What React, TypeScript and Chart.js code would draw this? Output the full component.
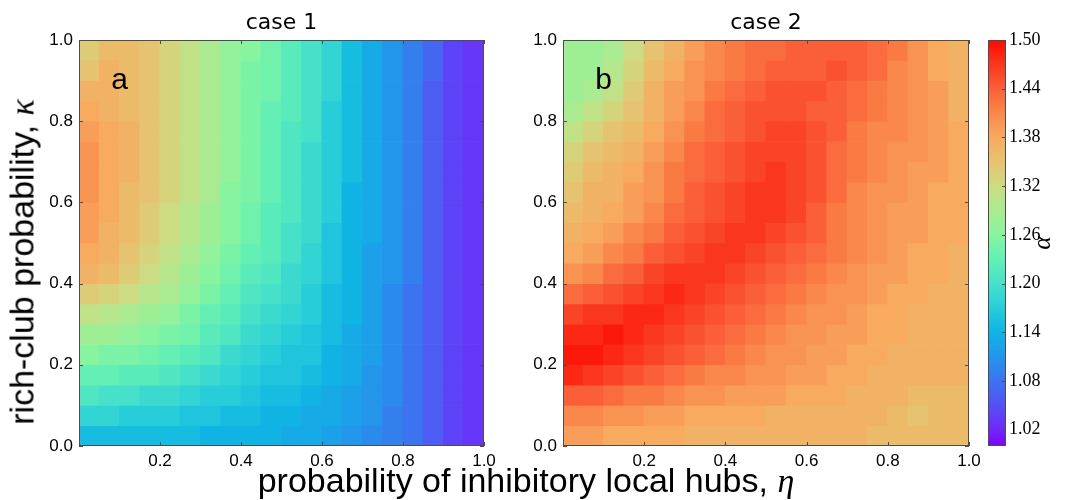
import React, { useEffect, useRef } from "react";
import { Chart, registerables } from "chart.js";

Chart.register(...registerables);

// ---------- data ----------
// column centres (eta) and row centres (kappa, top row first)
const ETA = [0.025, 0.075, 0.125, 0.175, 0.225, 0.275, 0.325, 0.375, 0.425, 0.475,
  0.525, 0.575, 0.625, 0.675, 0.725, 0.775, 0.825, 0.875, 0.925, 0.975];
const KAPPA = [0.975, 0.925, 0.875, 0.825, 0.775, 0.725, 0.675, 0.625, 0.575, 0.525,
  0.475, 0.425, 0.375, 0.325, 0.275, 0.225, 0.175, 0.125, 0.075, 0.025];

// alpha values, case 1 (rows follow KAPPA, columns follow ETA)
const CASE1 = [
  [1.34, 1.36, 1.36, 1.35, 1.33, 1.31, 1.29, 1.27, 1.26, 1.24, 1.22, 1.20, 1.18, 1.15, 1.13, 1.11, 1.09, 1.07, 1.04, 1.03],
  [1.35, 1.37, 1.36, 1.35, 1.33, 1.31, 1.29, 1.27, 1.25, 1.24, 1.22, 1.20, 1.18, 1.15, 1.13, 1.11, 1.09, 1.07, 1.04, 1.03],
  [1.37, 1.37, 1.36, 1.35, 1.33, 1.31, 1.29, 1.27, 1.25, 1.24, 1.22, 1.20, 1.18, 1.15, 1.13, 1.11, 1.09, 1.06, 1.04, 1.03],
  [1.38, 1.37, 1.36, 1.35, 1.33, 1.31, 1.29, 1.27, 1.25, 1.23, 1.22, 1.20, 1.17, 1.15, 1.13, 1.11, 1.09, 1.06, 1.04, 1.03],
  [1.39, 1.38, 1.37, 1.35, 1.33, 1.31, 1.29, 1.27, 1.25, 1.23, 1.21, 1.20, 1.17, 1.15, 1.13, 1.11, 1.09, 1.06, 1.04, 1.03],
  [1.40, 1.38, 1.37, 1.35, 1.33, 1.31, 1.29, 1.27, 1.25, 1.23, 1.21, 1.19, 1.17, 1.15, 1.13, 1.11, 1.09, 1.06, 1.04, 1.03],
  [1.40, 1.38, 1.37, 1.35, 1.33, 1.31, 1.29, 1.27, 1.25, 1.23, 1.21, 1.19, 1.17, 1.15, 1.13, 1.11, 1.09, 1.06, 1.04, 1.03],
  [1.40, 1.38, 1.36, 1.35, 1.33, 1.31, 1.29, 1.26, 1.25, 1.23, 1.21, 1.19, 1.17, 1.14, 1.13, 1.11, 1.09, 1.06, 1.04, 1.03],
  [1.39, 1.38, 1.36, 1.34, 1.32, 1.30, 1.28, 1.26, 1.24, 1.22, 1.21, 1.19, 1.17, 1.14, 1.13, 1.11, 1.09, 1.06, 1.04, 1.03],
  [1.39, 1.37, 1.36, 1.34, 1.32, 1.30, 1.28, 1.26, 1.24, 1.22, 1.20, 1.19, 1.16, 1.14, 1.13, 1.11, 1.09, 1.06, 1.04, 1.03],
  [1.38, 1.37, 1.35, 1.33, 1.31, 1.29, 1.27, 1.25, 1.23, 1.22, 1.20, 1.18, 1.16, 1.14, 1.12, 1.11, 1.09, 1.06, 1.04, 1.03],
  [1.37, 1.36, 1.34, 1.32, 1.30, 1.28, 1.26, 1.24, 1.22, 1.21, 1.19, 1.18, 1.16, 1.14, 1.12, 1.11, 1.09, 1.06, 1.04, 1.03],
  [1.34, 1.33, 1.32, 1.30, 1.29, 1.27, 1.25, 1.23, 1.21, 1.20, 1.19, 1.17, 1.15, 1.14, 1.12, 1.10, 1.08, 1.06, 1.04, 1.03],
  [1.31, 1.30, 1.29, 1.28, 1.27, 1.25, 1.23, 1.22, 1.20, 1.19, 1.18, 1.17, 1.15, 1.14, 1.12, 1.10, 1.08, 1.06, 1.04, 1.03],
  [1.28, 1.28, 1.27, 1.26, 1.25, 1.24, 1.22, 1.21, 1.19, 1.18, 1.17, 1.16, 1.15, 1.13, 1.12, 1.10, 1.08, 1.06, 1.04, 1.03],
  [1.26, 1.25, 1.25, 1.24, 1.23, 1.22, 1.21, 1.19, 1.18, 1.17, 1.16, 1.16, 1.14, 1.13, 1.12, 1.10, 1.08, 1.06, 1.04, 1.03],
  [1.23, 1.23, 1.22, 1.22, 1.21, 1.20, 1.19, 1.18, 1.17, 1.16, 1.16, 1.15, 1.14, 1.13, 1.11, 1.10, 1.08, 1.06, 1.04, 1.03],
  [1.21, 1.20, 1.20, 1.19, 1.19, 1.18, 1.17, 1.17, 1.16, 1.15, 1.15, 1.14, 1.13, 1.12, 1.11, 1.10, 1.08, 1.06, 1.04, 1.03],
  [1.18, 1.18, 1.17, 1.17, 1.17, 1.16, 1.16, 1.15, 1.15, 1.14, 1.14, 1.13, 1.13, 1.12, 1.11, 1.09, 1.08, 1.06, 1.04, 1.03],
  [1.15, 1.15, 1.15, 1.15, 1.15, 1.15, 1.14, 1.14, 1.14, 1.14, 1.13, 1.13, 1.12, 1.11, 1.10, 1.09, 1.08, 1.06, 1.04, 1.03],
];

// alpha values, case 2
const CASE2 = [
  [1.28, 1.28, 1.29, 1.32, 1.35, 1.37, 1.39, 1.41, 1.42, 1.43, 1.43, 1.44, 1.44, 1.44, 1.44, 1.43, 1.42, 1.40, 1.38, 1.37],
  [1.28, 1.28, 1.30, 1.33, 1.36, 1.38, 1.40, 1.41, 1.42, 1.43, 1.44, 1.44, 1.44, 1.45, 1.44, 1.43, 1.41, 1.40, 1.38, 1.37],
  [1.28, 1.29, 1.31, 1.34, 1.37, 1.39, 1.40, 1.42, 1.43, 1.44, 1.45, 1.45, 1.45, 1.44, 1.43, 1.42, 1.41, 1.40, 1.39, 1.37],
  [1.29, 1.31, 1.33, 1.35, 1.37, 1.39, 1.41, 1.43, 1.44, 1.45, 1.45, 1.45, 1.44, 1.44, 1.43, 1.42, 1.41, 1.40, 1.39, 1.37],
  [1.31, 1.33, 1.35, 1.36, 1.38, 1.40, 1.42, 1.43, 1.44, 1.45, 1.46, 1.46, 1.45, 1.44, 1.42, 1.41, 1.41, 1.40, 1.39, 1.38],
  [1.33, 1.35, 1.36, 1.37, 1.39, 1.41, 1.43, 1.44, 1.45, 1.46, 1.46, 1.46, 1.45, 1.43, 1.42, 1.41, 1.40, 1.40, 1.39, 1.38],
  [1.34, 1.36, 1.37, 1.38, 1.40, 1.42, 1.43, 1.44, 1.45, 1.46, 1.47, 1.46, 1.45, 1.43, 1.42, 1.41, 1.40, 1.39, 1.39, 1.38],
  [1.35, 1.37, 1.37, 1.39, 1.40, 1.42, 1.44, 1.45, 1.46, 1.47, 1.47, 1.46, 1.45, 1.43, 1.41, 1.40, 1.40, 1.39, 1.38, 1.38],
  [1.36, 1.37, 1.38, 1.39, 1.41, 1.43, 1.44, 1.45, 1.46, 1.47, 1.47, 1.46, 1.44, 1.42, 1.41, 1.40, 1.39, 1.39, 1.38, 1.38],
  [1.37, 1.38, 1.39, 1.41, 1.42, 1.44, 1.45, 1.46, 1.47, 1.47, 1.46, 1.45, 1.44, 1.42, 1.41, 1.40, 1.39, 1.39, 1.38, 1.38],
  [1.38, 1.39, 1.41, 1.42, 1.44, 1.45, 1.46, 1.47, 1.47, 1.46, 1.45, 1.44, 1.43, 1.42, 1.41, 1.40, 1.39, 1.38, 1.38, 1.37],
  [1.40, 1.41, 1.43, 1.44, 1.46, 1.47, 1.47, 1.47, 1.46, 1.45, 1.44, 1.43, 1.42, 1.41, 1.40, 1.39, 1.39, 1.38, 1.38, 1.37],
  [1.43, 1.44, 1.45, 1.46, 1.47, 1.48, 1.47, 1.46, 1.45, 1.44, 1.43, 1.42, 1.41, 1.40, 1.40, 1.39, 1.38, 1.38, 1.37, 1.37],
  [1.46, 1.47, 1.47, 1.48, 1.48, 1.47, 1.46, 1.45, 1.44, 1.43, 1.42, 1.41, 1.40, 1.40, 1.39, 1.38, 1.38, 1.37, 1.37, 1.37],
  [1.48, 1.48, 1.49, 1.48, 1.47, 1.46, 1.45, 1.44, 1.43, 1.42, 1.41, 1.40, 1.40, 1.39, 1.39, 1.38, 1.38, 1.37, 1.37, 1.37],
  [1.49, 1.49, 1.48, 1.47, 1.46, 1.45, 1.44, 1.43, 1.42, 1.41, 1.40, 1.40, 1.39, 1.39, 1.38, 1.38, 1.37, 1.37, 1.37, 1.37],
  [1.48, 1.47, 1.46, 1.45, 1.44, 1.43, 1.42, 1.41, 1.41, 1.40, 1.40, 1.39, 1.39, 1.38, 1.38, 1.37, 1.37, 1.37, 1.37, 1.37],
  [1.44, 1.44, 1.43, 1.42, 1.42, 1.41, 1.40, 1.40, 1.39, 1.39, 1.39, 1.38, 1.38, 1.38, 1.37, 1.37, 1.37, 1.36, 1.36, 1.36],
  [1.41, 1.41, 1.40, 1.40, 1.39, 1.39, 1.38, 1.38, 1.38, 1.38, 1.37, 1.37, 1.37, 1.37, 1.37, 1.37, 1.36, 1.35, 1.36, 1.36],
  [1.39, 1.39, 1.38, 1.38, 1.38, 1.38, 1.37, 1.37, 1.37, 1.37, 1.37, 1.37, 1.37, 1.37, 1.37, 1.36, 1.36, 1.36, 1.36, 1.36],
];

const X_TICKS = [0.2, 0.4, 0.6, 0.8, 1.0];
const Y_TICKS = [0.0, 0.2, 0.4, 0.6, 0.8, 1.0];
const CBAR_TICKS = [1.02, 1.08, 1.14, 1.20, 1.26, 1.32, 1.38, 1.44, 1.50];
const ALPHA_MIN = 1.0;
const ALPHA_MAX = 1.5;
const TITLES = ["case 1", "case 2"];
const LETTERS = ["a", "b"];
const LETTER_POS = [0.1, 0.9];
const X_LABEL = "probability of inhibitory local hubs, ";
const Y_LABEL = "rich-club probability, ";

// ---------- styles ----------
const CMAP: number[][] = [
  [0.00, 128, 0, 255],
  [0.04, 110, 40, 250],
  [0.10, 85, 80, 245],
  [0.16, 60, 115, 240],
  [0.22, 35, 150, 235],
  [0.28, 15, 180, 228],
  [0.34, 40, 205, 218],
  [0.40, 70, 225, 200],
  [0.46, 100, 240, 180],
  [0.52, 135, 245, 160],
  [0.58, 170, 235, 145],
  [0.64, 205, 220, 130],
  [0.70, 230, 195, 112],
  [0.76, 248, 170, 95],
  [0.82, 250, 135, 75],
  [0.88, 250, 95, 55],
  [0.94, 250, 55, 30],
  [1.00, 255, 10, 0],
];
const FRAME = "#4d4d4d";
const TICK_LEN = 4;
const SANS = '"Liberation Sans", Arial, sans-serif';
const SERIF = '"Liberation Serif", "DejaVu Serif", serif';
const CELL_HALF = 0.0258;

function colorFor(v: number): string {
  const t = Math.min(1, Math.max(0, (v - ALPHA_MIN) / (ALPHA_MAX - ALPHA_MIN)));
  for (let i = 1; i < CMAP.length; i++) {
    const a = CMAP[i - 1];
    const b = CMAP[i];
    if (t <= b[0]) {
      const f = (t - a[0]) / (b[0] - a[0]);
      const r = Math.round(a[1] + (b[1] - a[1]) * f);
      const g = Math.round(a[2] + (b[2] - a[2]) * f);
      const bl = Math.round(a[3] + (b[3] - a[3]) * f);
      return `rgb(${r},${g},${bl})`;
    }
  }
  const l = CMAP[CMAP.length - 1];
  return `rgb(${l[1]},${l[2]},${l[3]})`;
}

const heatDecor = {
  id: "heatDecor",
  afterDatasetsDraw(chart: any, _args: any, opts: any) {
    const { ctx, chartArea: a, scales } = chart;
    const x = scales.x;
    const y = scales.y;
    ctx.save();
    ctx.strokeStyle = FRAME;
    ctx.lineWidth = 1;
    ctx.beginPath();
    X_TICKS.forEach((v) => {
      const px = Math.round(x.getPixelForValue(v)) + 0.5;
      ctx.moveTo(px, a.bottom);
      ctx.lineTo(px, a.bottom - TICK_LEN);
      ctx.moveTo(px, a.top);
      ctx.lineTo(px, a.top + TICK_LEN);
    });
    Y_TICKS.forEach((v) => {
      const py = Math.round(y.getPixelForValue(v)) + 0.5;
      ctx.moveTo(a.left, py);
      ctx.lineTo(a.left + TICK_LEN, py);
      ctx.moveTo(a.right, py);
      ctx.lineTo(a.right - TICK_LEN, py);
    });
    ctx.stroke();
    ctx.strokeRect(Math.round(a.left) + 0.5, Math.round(a.top) + 0.5,
      Math.round(a.width) - 1, Math.round(a.height) - 1);
    ctx.fillStyle = "#000";
    ctx.font = `30px ${SANS}`;
    ctx.textAlign = "center";
    ctx.textBaseline = "middle";
    ctx.fillText(opts.letter, x.getPixelForValue(LETTER_POS[0]), y.getPixelForValue(LETTER_POS[1]));
    ctx.restore();
  },
};

const cbarDecor = {
  id: "cbarDecor",
  afterDatasetsDraw(chart: any) {
    const { ctx, chartArea: a, scales } = chart;
    const y = scales.y;
    ctx.save();
    ctx.strokeStyle = FRAME;
    ctx.lineWidth = 1;
    ctx.beginPath();
    CBAR_TICKS.forEach((v) => {
      const py = Math.round(y.getPixelForValue(v)) + 0.5;
      ctx.moveTo(a.right, py);
      ctx.lineTo(a.right - TICK_LEN, py);
    });
    ctx.stroke();
    ctx.strokeRect(Math.round(a.left) + 0.5, Math.round(a.top) + 0.5,
      Math.round(a.width) - 1, Math.round(a.height) - 1);
    ctx.fillStyle = "#000";
    ctx.font = `italic 26px ${SERIF}`;
    ctx.textAlign = "center";
    ctx.textBaseline = "middle";
    ctx.translate(a.right + 37, (a.top + a.bottom) / 2);
    ctx.rotate(-Math.PI / 2);
    ctx.fillText("α", 0, 0);
    ctx.restore();
  },
};

function heatConfig(panel: number, yAxisWidth: number, padRight: number): any {
  const grid = panel === 0 ? CASE1 : CASE2;
  const datasets = KAPPA.map((k, ri) => ({
    data: ETA.map((e) => ({ x: e, y: [k - CELL_HALF, k + CELL_HALF] })),
    backgroundColor: grid[ri].map((v) => colorFor(v)),
    borderWidth: 0,
    barPercentage: 1.05,
    categoryPercentage: 1,
    grouped: false,
    clip: 0,
  }));
  return {
    type: "bar",
    data: { datasets },
    plugins: [heatDecor],
    options: {
      responsive: false,
      animation: false,
      events: [],
      layout: { padding: { left: 0, right: padRight, top: 0, bottom: 0 } },
      plugins: {
        legend: { display: false },
        tooltip: { enabled: false },
        title: {
          display: true,
          text: TITLES[panel],
          fullSize: false,
          color: "#000",
          font: { family: '"DejaVu Sans", sans-serif', size: 22, weight: "normal" },
          padding: { top: 10, bottom: 3.6 },
        },
        heatDecor: { letter: LETTERS[panel] },
      },
      scales: {
        x: {
          type: "linear",
          min: 0,
          max: 1,
          offset: false,
          grid: { display: false, drawTicks: false, offset: false },
          border: { display: false },
          afterBuildTicks: (s: any) => {
            s.ticks = X_TICKS.map((v) => ({ value: v }));
          },
          afterFit: (s: any) => {
            s.height = 54;
          },
          ticks: {
            color: "#000",
            font: { family: SANS, size: 17 },
            padding: 5,
            maxRotation: 0,
            autoSkip: false,
            callback: (v: any) => Number(v).toFixed(1),
          },
        },
        y: {
          type: "linear",
          min: 0,
          max: 1,
          grid: { display: false, drawTicks: false },
          border: { display: false },
          afterBuildTicks: (s: any) => {
            s.ticks = Y_TICKS.map((v) => ({ value: v }));
          },
          afterFit: (s: any) => {
            s.width = yAxisWidth;
          },
          ticks: {
            color: "#000",
            font: { family: SANS, size: 17 },
            padding: 6,
            autoSkip: false,
            callback: (v: any) => Number(v).toFixed(1),
          },
        },
      },
    },
  };
}

function cbarConfig(): any {
  return {
    type: "bar",
    data: {
      labels: [""],
      datasets: [
        {
          data: [[ALPHA_MIN, ALPHA_MAX]],
          backgroundColor: (c: any) => {
            const chart = c.chart;
            const area = chart.chartArea;
            if (!area) return colorFor((ALPHA_MIN + ALPHA_MAX) / 2);
            const g = chart.ctx.createLinearGradient(0, area.bottom, 0, area.top);
            CMAP.forEach((s) => g.addColorStop(s[0], `rgb(${s[1]},${s[2]},${s[3]})`));
            return g;
          },
          borderWidth: 0,
          barPercentage: 1,
          categoryPercentage: 1,
          clip: 0,
        },
      ],
    },
    plugins: [cbarDecor],
    options: {
      responsive: false,
      animation: false,
      events: [],
      layout: { padding: { left: 8, right: 0, top: 40, bottom: 54 } },
      plugins: { legend: { display: false }, tooltip: { enabled: false } },
      scales: {
        x: { display: false },
        y: {
          position: "right",
          min: ALPHA_MIN,
          max: ALPHA_MAX,
          grid: { display: false, drawTicks: false },
          border: { display: false },
          afterBuildTicks: (s: any) => {
            s.ticks = CBAR_TICKS.map((v) => ({ value: v }));
          },
          afterFit: (s: any) => {
            s.width = 71;
          },
          ticks: {
            color: "#000",
            font: { family: SERIF, size: 18 },
            padding: 3,
            autoSkip: false,
            callback: (v: any) => Number(v).toFixed(2),
          },
        },
      },
    },
  };
}

function ChartBox(props: { left: number; width: number; make: () => any }) {
  const ref = useRef<HTMLCanvasElement | null>(null);
  useEffect(() => {
    const chart = new Chart(ref.current as HTMLCanvasElement, props.make());
    return () => chart.destroy();
  }, []);
  return (
    <div style={{ position: "absolute", left: props.left, top: 0, width: props.width, height: 500 }}>
      <canvas ref={ref} width={props.width} height={500} style={{ width: props.width, height: 500, display: "block" }} />
    </div>
  );
}

export default function App() {
  return (
    <div style={{ position: "absolute", left: 0, top: 0, width: 1077, height: 500, background: "#fff", overflow: "hidden" }}>
      <ChartBox left={0} width={520} make={() => heatConfig(0, 79, 36)} />
      <ChartBox left={500} width={500} make={() => heatConfig(1, 63, 31)} />
      <ChartBox left={980} width={97} make={cbarConfig} />
      <div
        style={{
          position: "absolute",
          left: 22,
          top: 262,
          transform: "translate(-50%, -50%) rotate(-90deg)",
          fontFamily: SANS,
          fontSize: 34,
          lineHeight: "38px",
          color: "#000",
          whiteSpace: "nowrap",
        }}
      >
        {Y_LABEL}
        <span style={{ fontFamily: SERIF, fontStyle: "italic" }}>κ</span>
      </div>
      <div
        style={{
          position: "absolute",
          left: 0,
          top: 462,
          width: 1052,
          textAlign: "center",
          fontFamily: SANS,
          fontSize: 34,
          lineHeight: "36px",
          color: "#000",
          whiteSpace: "nowrap",
        }}
      >
        {X_LABEL}
        <span style={{ fontFamily: SERIF, fontStyle: "italic" }}>η</span>
      </div>
    </div>
  );
}
